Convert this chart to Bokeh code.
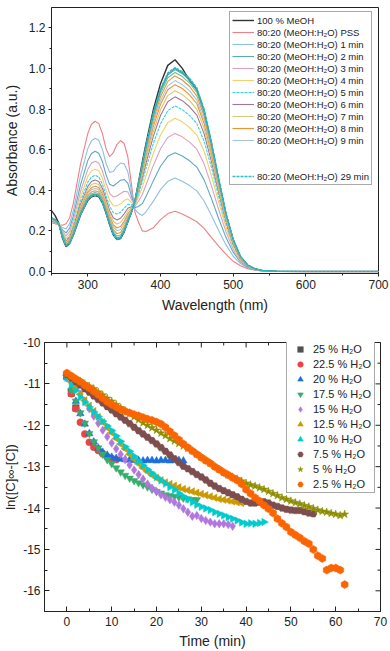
from bokeh.plotting import figure
from bokeh.models import (Legend, LegendItem, Range1d, FixedTicker,
                          PrintfTickFormatter)
from bokeh.embed import file_html
from bokeh.resources import INLINE

FONT = "Liberation Sans"
AX = "#222222"

# ---------------- top panel data: absorbance spectra ----------------
wl = [250, 255, 260, 265, 270, 275, 280,
      290, 300, 305, 310, 315, 320, 325, 330, 335, 340, 345, 350, 355, 360, 365, 370, 375, 380,
      390, 400, 410, 420, 430, 440, 450, 460, 470, 480, 490, 500, 510, 520, 530, 540,
      560, 600, 700]

a_meoh = [0.30, 0.275, 0.238, 0.165, 0.122, 0.138, 0.178,
          0.278, 0.35, 0.368, 0.374, 0.368, 0.338, 0.288, 0.23, 0.18, 0.157, 0.162, 0.194, 0.244, 0.29, 0.352, 0.445, 0.54, 0.63,
          0.795, 0.925, 1.015, 1.043, 1.0, 0.94, 0.895, 0.79, 0.63, 0.45, 0.283, 0.155, 0.072, 0.03, 0.012, 0.005,
          0.001, 0, 0]
a_pss = [0.24, 0.235, 0.23, 0.228, 0.235, 0.265, 0.335,
         0.53, 0.68, 0.725, 0.74, 0.728, 0.68, 0.605, 0.565, 0.585, 0.625, 0.645, 0.63, 0.565, 0.43, 0.29, 0.24, 0.2, 0.197,
         0.215, 0.255, 0.285, 0.297, 0.283, 0.265, 0.245, 0.212, 0.168, 0.125, 0.085, 0.05, 0.028, 0.014, 0.006, 0.002,
         0, 0, 0]
a_1 = [0.246, 0.240, 0.231, 0.215, 0.210, 0.236, 0.299,
       0.473, 0.605, 0.643, 0.656, 0.646, 0.602, 0.533, 0.488, 0.492, 0.518, 0.534, 0.530, 0.491, 0.398, 0.304, 0.286, 0.276, 0.294,
       0.345, 0.403, 0.444, 0.460, 0.444, 0.423, 0.397, 0.347, 0.277, 0.202, 0.132, 0.075, 0.039, 0.018, 0.008, 0.003,
       0.001, 0, 0]
a_2 = [0.250, 0.243, 0.232, 0.204, 0.190, 0.214, 0.272,
       0.428, 0.547, 0.581, 0.592, 0.582, 0.542, 0.477, 0.429, 0.421, 0.435, 0.449, 0.453, 0.435, 0.373, 0.314, 0.321, 0.334, 0.369,
       0.445, 0.518, 0.567, 0.585, 0.569, 0.545, 0.514, 0.451, 0.360, 0.261, 0.168, 0.095, 0.047, 0.021, 0.009, 0.003,
       0.001, 0, 0]
a_3 = [0.254, 0.246, 0.233, 0.197, 0.175, 0.197, 0.251,
       0.395, 0.503, 0.533, 0.543, 0.534, 0.496, 0.435, 0.385, 0.367, 0.372, 0.384, 0.395, 0.392, 0.354, 0.322, 0.348, 0.379, 0.426,
       0.521, 0.604, 0.660, 0.680, 0.663, 0.637, 0.602, 0.530, 0.423, 0.306, 0.196, 0.110, 0.053, 0.024, 0.010, 0.004,
       0.001, 0, 0]
a_4 = [0.256, 0.248, 0.233, 0.190, 0.164, 0.184, 0.235,
       0.368, 0.468, 0.495, 0.504, 0.496, 0.460, 0.401, 0.350, 0.324, 0.323, 0.333, 0.349, 0.358, 0.339, 0.329, 0.369, 0.414, 0.471,
       0.581, 0.672, 0.733, 0.755, 0.737, 0.709, 0.672, 0.592, 0.473, 0.342, 0.218, 0.121, 0.058, 0.026, 0.011, 0.004,
       0.001, 0, 0]
a_5 = [0.258, 0.250, 0.234, 0.186, 0.154, 0.174, 0.222,
       0.347, 0.440, 0.465, 0.474, 0.466, 0.431, 0.374, 0.321, 0.290, 0.283, 0.292, 0.312, 0.331, 0.328, 0.334, 0.386, 0.442, 0.507,
       0.629, 0.727, 0.792, 0.815, 0.797, 0.768, 0.728, 0.642, 0.514, 0.370, 0.235, 0.131, 0.062, 0.027, 0.011, 0.004,
       0.001, 0, 0]
a_6 = [0.260, 0.251, 0.234, 0.182, 0.148, 0.166, 0.212,
       0.331, 0.419, 0.443, 0.451, 0.443, 0.410, 0.355, 0.300, 0.265, 0.254, 0.262, 0.284, 0.311, 0.319, 0.338, 0.399, 0.462, 0.533,
       0.664, 0.768, 0.836, 0.860, 0.841, 0.811, 0.770, 0.679, 0.543, 0.391, 0.248, 0.137, 0.065, 0.028, 0.012, 0.004,
       0.001, 0, 0]
a_7 = [0.261, 0.252, 0.234, 0.179, 0.143, 0.160, 0.205,
       0.321, 0.405, 0.428, 0.435, 0.428, 0.395, 0.341, 0.286, 0.247, 0.234, 0.241, 0.265, 0.297, 0.313, 0.340, 0.408, 0.477, 0.551,
       0.688, 0.796, 0.866, 0.890, 0.871, 0.841, 0.798, 0.705, 0.564, 0.406, 0.257, 0.142, 0.067, 0.029, 0.012, 0.005,
       0.001, 0, 0]
a_8 = [0.262, 0.253, 0.234, 0.177, 0.138, 0.155, 0.199,
       0.310, 0.391, 0.413, 0.420, 0.413, 0.381, 0.328, 0.272, 0.230, 0.214, 0.221, 0.247, 0.283, 0.307, 0.343, 0.416, 0.490, 0.569,
       0.712, 0.823, 0.895, 0.920, 0.901, 0.870, 0.826, 0.729, 0.583, 0.420, 0.265, 0.147, 0.069, 0.030, 0.012, 0.005,
       0.001, 0, 0]
a_9 = [0.263, 0.253, 0.235, 0.175, 0.135, 0.152, 0.194,
       0.303, 0.382, 0.403, 0.409, 0.403, 0.371, 0.319, 0.263, 0.219, 0.201, 0.207, 0.235, 0.274, 0.303, 0.344, 0.422, 0.500, 0.581,
       0.728, 0.841, 0.914, 0.940, 0.920, 0.889, 0.844, 0.746, 0.597, 0.429, 0.271, 0.150, 0.071, 0.030, 0.012, 0.005,
       0.001, 0, 0]
a_11 = [0.263, 0.254, 0.235, 0.173, 0.132, 0.148, 0.189,
        0.295, 0.372, 0.391, 0.398, 0.391, 0.360, 0.309, 0.252, 0.206, 0.186, 0.192, 0.221, 0.264, 0.298, 0.346, 0.428, 0.510, 0.595,
        0.746, 0.861, 0.936, 0.963, 0.943, 0.911, 0.865, 0.765, 0.612, 0.440, 0.278, 0.153, 0.072, 0.031, 0.013, 0.005,
        0.001, 0, 0]
a_14 = [0.264, 0.254, 0.235, 0.172, 0.129, 0.144, 0.185,
        0.289, 0.363, 0.382, 0.389, 0.383, 0.352, 0.301, 0.244, 0.196, 0.174, 0.180, 0.210, 0.256, 0.295, 0.348, 0.433, 0.518, 0.605,
        0.760, 0.877, 0.954, 0.980, 0.960, 0.928, 0.882, 0.779, 0.623, 0.448, 0.283, 0.156, 0.073, 0.031, 0.013, 0.005,
        0.001, 0, 0]
a_19 = [0.265, 0.255, 0.235, 0.171, 0.127, 0.142, 0.182,
        0.284, 0.357, 0.376, 0.382, 0.376, 0.345, 0.295, 0.237, 0.188, 0.165, 0.171, 0.202, 0.250, 0.292, 0.349, 0.437, 0.525, 0.613,
        0.771, 0.890, 0.967, 0.994, 0.974, 0.941, 0.894, 0.791, 0.632, 0.455, 0.287, 0.158, 0.074, 0.032, 0.013, 0.005,
        0.001, 0, 0]
a_24 = [0.265, 0.255, 0.235, 0.170, 0.126, 0.141, 0.181,
        0.282, 0.354, 0.372, 0.379, 0.373, 0.342, 0.292, 0.234, 0.185, 0.161, 0.166, 0.198, 0.247, 0.291, 0.350, 0.439, 0.528, 0.617,
        0.776, 0.895, 0.973, 1.0, 0.980, 0.947, 0.900, 0.796, 0.637, 0.458, 0.289, 0.159, 0.075, 0.032, 0.013, 0.005,
        0.001, 0, 0]
a_29 = [0.265, 0.255, 0.235, 0.17, 0.125, 0.14, 0.18,
        0.28, 0.352, 0.37, 0.376, 0.37, 0.34, 0.29, 0.232, 0.182, 0.158, 0.163, 0.195, 0.245, 0.29, 0.35, 0.44, 0.53, 0.62,
        0.78, 0.9, 0.978, 1.005, 0.985, 0.952, 0.905, 0.80, 0.64, 0.46, 0.29, 0.16, 0.075, 0.032, 0.013, 0.005,
        0.001, 0, 0]

spec_labels = ["100 % MeOH", "80:20 (MeOH:H\u2082O) PSS"] + \
    ["80:20 (MeOH:H\u2082O) %d min" % m for m in (1, 2, 3, 4, 5, 6, 7, 8, 9)]
label_29 = "80:20 (MeOH:H\u2082O) 29 min"

wl_ticks = [300, 400, 500, 600, 700]
wl_minor = [250, 350, 450, 550, 650]
abs_ticks = [0.0, 0.2, 0.4, 0.6, 0.8, 1.0, 1.2]
abs_minor = [0.1, 0.3, 0.5, 0.7, 0.9, 1.1]

# ---------------- bottom panel data: kinetics ----------------
t_25 = [0, 1, 2]
y_25 = [-10.82, -11.22, -11.58]
t_22_5 = [0, 1, 2, 3, 4, 5, 6, 7, 8, 9, 10, 11]
y_22_5 = [-10.8, -11.24, -11.6, -11.93, -12.21, -12.41, -12.53, -12.61, -12.69, -12.76, -12.8, -12.83]
t_20 = [0, 1, 2, 3, 4, 5, 6, 7, 8, 9, 10, 11, 12, 13, 14, 15, 16, 17, 18, 19, 20, 21, 22, 23, 24, 25, 26]
y_20 = [-10.82, -11.1, -11.42, -11.72, -11.97, -12.2, -12.4, -12.55, -12.65, -12.72, -12.77, -12.8, -12.82,
        -12.83, -12.84, -12.85, -12.85, -12.86, -12.85, -12.85, -12.86, -12.85, -12.85, -12.86, -12.85, -12.85, -12.86]
t_17_5 = [0, 1, 2, 3, 4, 5, 6, 7, 8, 9, 10, 11, 12, 13, 14, 15, 16, 17, 18, 19, 20, 21, 22, 23, 24, 25, 26, 27, 28, 29]
y_17_5 = [-10.85, -11.16, -11.42, -11.7, -11.95, -12.2, -12.4, -12.55, -12.7, -12.83, -12.93, -13.03, -13.13, -13.21,
          -13.28, -13.34, -13.39, -13.44, -13.49, -13.55, -13.6, -13.64, -13.68, -13.7, -13.72, -13.74, -13.76, -13.78,
          -13.8, -13.8]
t_15 = [0, 1, 2, 3, 4, 5, 6, 7, 8, 9, 10, 11, 12, 13, 14, 15, 16, 17, 18, 19, 20, 21, 22, 23, 24, 25, 26, 27, 28, 29,
        30, 31, 32, 33, 34, 35, 36, 37]
y_15 = [-10.85, -10.98, -11.1, -11.25, -11.42, -11.6, -11.78, -11.95, -12.12, -12.28, -12.43, -12.57, -12.7, -12.83,
        -12.96, -13.08, -13.19, -13.3, -13.42, -13.52, -13.6, -13.68, -13.74, -13.8, -13.86, -13.93, -14.02, -14.1,
        -14.2, -14.18, -14.25, -14.3, -14.34, -14.38, -14.38, -14.38, -14.4, -14.44]
t_12_5 = [0, 1, 2, 3, 4, 5, 6, 7, 8, 9, 10, 11, 12, 13, 14, 15, 16, 17, 18, 19, 20, 21, 22, 23, 24, 25, 26, 27, 28,
          29, 30, 31, 32, 33, 34, 35, 36, 37, 38, 39]
y_12_5 = [-10.8, -10.95, -11.1, -11.25, -11.4, -11.53, -11.66, -11.8, -11.93, -12.06,
          -12.18, -12.32, -12.45, -12.57, -12.7, -12.82, -12.93, -13.03, -13.12, -13.2,
          -13.27, -13.33, -13.38, -13.42, -13.46, -13.5, -13.54, -13.57, -13.6, -13.63,
          -13.66, -13.69, -13.72, -13.75, -13.78, -13.8, -13.82, -13.84, -13.86, -13.88]
t_10 = [0, 1, 2, 3, 4, 5, 6, 7, 8, 9, 10, 11, 12, 13, 14, 15, 16, 17, 18, 19, 20, 21, 22, 23, 24, 25, 26, 27, 28, 29,
        30, 31, 32, 33, 34, 35, 36, 37, 38, 39, 40, 41, 42, 43, 44]
y_10 = [-10.85, -11.02, -11.16, -11.32, -11.44, -11.56, -11.68, -11.79, -11.9, -12.02,
        -12.13, -12.26, -12.39, -12.52, -12.63, -12.75, -12.87, -12.97, -13.07, -13.16,
        -13.25, -13.33, -13.41, -13.49, -13.56, -13.64, -13.72, -13.78, -13.86, -13.92,
        -13.97, -14.01, -14.05, -14.1, -14.14, -14.18, -14.22, -14.26, -14.3, -14.35,
        -14.38, -14.37, -14.38, -14.36, -14.34]
t_7_5 = [0, 1, 2, 3, 4, 5, 6, 7, 8, 9, 10, 11, 12, 13, 14, 15, 16, 17, 18, 19, 20, 21, 22, 23, 24, 25, 26, 27, 28, 29,
         30, 31, 32, 33, 34, 35, 36, 37, 38, 39, 40, 41, 42, 43, 44, 45, 46, 47, 48, 49, 50, 51, 52, 53, 54, 55]
y_7_5 = [-10.78, -10.86, -10.95, -11.03, -11.12, -11.2, -11.29, -11.38, -11.46, -11.55,
         -11.63, -11.72, -11.8, -11.88, -11.96, -12.05, -12.13, -12.21, -12.29, -12.37,
         -12.45, -12.54, -12.63, -12.72, -12.81, -12.9, -12.99, -13.05, -13.12, -13.19,
         -13.25, -13.32, -13.4, -13.47, -13.53, -13.58, -13.63, -13.68, -13.73, -13.79,
         -13.84, -13.88, -13.88, -13.86, -13.85, -13.88, -13.93, -13.96, -14.0, -14.03,
         -14.05, -14.06, -14.06, -14.09, -14.12, -14.14]
t_5 = [0, 1, 2, 3, 4, 5, 6, 7, 8, 9, 10, 11, 12, 13, 14, 15, 16, 17, 18, 19, 20, 21, 22, 23, 24, 25, 26, 27, 28, 29,
       30, 31, 32, 33, 34, 35, 36, 37, 38, 39, 40, 41, 42, 43, 44, 45, 46, 47, 48, 49, 50, 51, 52, 53, 54, 55, 56, 57,
       58, 59, 60, 61, 62]
y_5 = [-10.76, -10.82, -10.88, -10.94, -11.0, -11.06, -11.12, -11.2, -11.27, -11.35,
       -11.42, -11.5, -11.58, -11.65, -11.72, -11.8, -11.87, -11.94, -12.0, -12.06,
       -12.12, -12.19, -12.25, -12.32, -12.38, -12.44, -12.5, -12.56, -12.62, -12.7,
       -12.77, -12.85, -12.92, -13.0, -13.07, -13.14, -13.2, -13.25, -13.3, -13.35,
       -13.4, -13.44, -13.47, -13.51, -13.55, -13.6, -13.65, -13.7, -13.75, -13.79,
       -13.83, -13.87, -13.9, -13.94, -13.97, -14.01, -14.05, -14.08, -14.1, -14.13,
       -14.15, -14.18, -14.15]
t_2_5 = [0, 1, 2, 3, 4, 5, 6, 7, 8, 9, 10, 11, 12, 13, 14, 15, 16, 17, 18, 19, 20, 21, 22, 23, 24, 25, 26, 27, 28, 29,
         30, 31, 32, 33, 34, 35, 36, 37, 38, 39, 40, 41, 42, 43, 44, 45, 46, 47, 48, 49, 50, 51, 52, 53, 54, 55, 56, 57,
         58, 59, 60, 61, 62]
y_2_5 = [-10.74, -10.81, -10.88, -10.95, -11.03, -11.1, -11.18, -11.26, -11.35, -11.43,
         -11.5, -11.56, -11.62, -11.66, -11.7, -11.74, -11.77, -11.81, -11.85, -11.88,
         -11.92, -11.97, -12.05, -12.15, -12.25, -12.35, -12.45, -12.54, -12.62, -12.7,
         -12.78, -12.85, -12.92, -13.0, -13.07, -13.14, -13.2, -13.27, -13.33, -13.42,
         -13.55, -13.65, -13.75, -13.83, -13.93, -14.02, -14.12, -14.26, -14.37, -14.46,
         -14.58, -14.65, -14.72, -14.8, -14.86, -15.0, -15.15, -15.22, -15.5, -15.45,
         -15.45, -15.5, -15.85]

kin_labels = ["25 % H\u2082O", "22.5 % H\u2082O", "20 % H\u2082O", "17.5 % H\u2082O", "15 % H\u2082O",
              "12.5 % H\u2082O", "10 % H\u2082O", "7.5 % H\u2082O", "5 % H\u2082O", "2.5 % H\u2082O"]

t_ticks = [0, 10, 20, 30, 40, 50, 60, 70]
t_minor = [-5, 5, 15, 25, 35, 45, 55, 65]
ln_ticks = [-16, -15, -14, -13, -12, -11, -10]
ln_minor = [-16.5, -15.5, -14.5, -13.5, -12.5, -11.5, -10.5]
T_MIN, T_MAX = -5, 70
LN_MIN, LN_MAX = -16.5, -10


def style_axis(ax, tick_in, tick_out):
    ax.axis_line_color = AX
    ax.major_tick_line_color = AX
    ax.minor_tick_line_color = AX
    ax.major_tick_in = tick_in
    ax.major_tick_out = tick_out
    ax.minor_tick_in = max(tick_in - 2, 0)
    ax.minor_tick_out = max(tick_out - 1, 0)
    ax.major_label_text_font = FONT
    ax.major_label_text_font_size = "12px"
    ax.major_label_text_color = AX
    ax.axis_label_text_font = FONT
    ax.axis_label_text_font_size = "14px"
    ax.axis_label_text_font_style = "normal"
    ax.axis_label_text_color = AX


# ======================= TOP FIGURE =======================
p1 = figure(width=390, height=318, x_range=Range1d(250, 700), y_range=Range1d(-0.01, 1.3),
            output_backend="svg", toolbar_location=None,
            min_border_left=51, min_border_right=12, min_border_top=7, min_border_bottom=45)
p1.xgrid.visible = False
p1.ygrid.visible = False
p1.outline_line_color = AX
p1.outline_line_alpha = 1
p1.xaxis.axis_label = "Wavelength (nm)"
p1.yaxis.axis_label = "Absorbance (a.u.)"
p1.xaxis.ticker = FixedTicker(ticks=wl_ticks, minor_ticks=wl_minor)
p1.yaxis.ticker = FixedTicker(ticks=abs_ticks, minor_ticks=abs_minor)
p1.yaxis.formatter = PrintfTickFormatter(format="%.1f")
style_axis(p1.xaxis[0], 0, 3)
style_axis(p1.yaxis[0], 0, 3)
p1.xaxis.major_label_standoff = 3
p1.yaxis.major_label_standoff = 3
p1.xaxis.axis_label_standoff = 5
p1.yaxis.axis_label_standoff = 6

spec_series = [a_meoh, a_pss, a_1, a_2, a_3, a_4, a_5, a_6, a_7, a_8, a_9]
spec_colors = ["#333333", "#ef7f86", "#8fc0e0", "#5ba9bf", "#dba2c0", "#f1d26a",
               "#2fd3e3", "#a27593", "#d4c978", "#f0922e", "#a9c3dc"]
extra_series = [a_11, a_14, a_19, a_24]
extra_colors = ["#e8963c", "#6cbf9c", "#4aa6aa", "#2e9e96"]

renders = []
for ys, c in zip(spec_series, spec_colors):
    dash = "3 1" if c == "#2fd3e3" else "solid"
    w = 1.4 if c == "#333333" else 1.1
    renders.append(p1.line(wl, ys, line_color=c, line_width=w, line_dash=dash))
for ys, c in zip(extra_series, extra_colors):
    p1.line(wl, ys, line_color=c, line_width=1.1)
r29 = p1.line(wl, a_29, line_color="#2fbfc8", line_width=1.3, line_dash="3 1")
blank = p1.line([250], [0], line_alpha=0)

items = [LegendItem(label=l, renderers=[r]) for l, r in zip(spec_labels, renders)]
items += [LegendItem(label=" ", renderers=[blank]), LegendItem(label="  ", renderers=[blank]),
          LegendItem(label=label_29, renderers=[r29])]
leg1 = Legend(items=items, location=(178, 88), orientation="vertical")
leg1.label_text_font = FONT
leg1.label_text_font_size = "9.5px"
leg1.label_text_color = AX
leg1.label_height = 12
leg1.glyph_height = 12
leg1.glyph_width = 22
leg1.label_standoff = 3
leg1.spacing = 0
leg1.padding = 2
leg1.margin = 0
leg1.border_line_color = "#555555"
leg1.border_line_width = 1
leg1.background_fill_color = "white"
leg1.background_fill_alpha = 1
p1.add_layout(leg1)

# ======================= BOTTOM FIGURE =======================
p2 = figure(width=390, height=333, x_range=Range1d(T_MIN, T_MAX), y_range=Range1d(LN_MIN, LN_MAX),
            output_backend="svg", toolbar_location=None,
            min_border_left=43, min_border_right=10, min_border_top=24, min_border_bottom=39)
p2.xgrid.visible = False
p2.ygrid.visible = False
p2.outline_line_color = AX
p2.outline_line_alpha = 1
p2.xaxis.axis_label = "Time (min)"
p2.yaxis.axis_label = "ln([C]\u221e-[C])"
p2.xaxis.ticker = FixedTicker(ticks=t_ticks, minor_ticks=t_minor)
p2.yaxis.ticker = FixedTicker(ticks=ln_ticks, minor_ticks=ln_minor)
p2.yaxis.formatter = PrintfTickFormatter(format="%d")
style_axis(p2.xaxis[0], 5, 0)
style_axis(p2.yaxis[0], 5, 0)
p2.yaxis.axis_label_text_font_size = "13px"
p2.xaxis.major_label_standoff = 5
p2.yaxis.major_label_standoff = 4
p2.xaxis.axis_label_standoff = 4
p2.yaxis.axis_label_standoff = 2

# mirrored inward ticks on the right and top edges (clipped to the frame)
p2.scatter([T_MAX] * len(ln_ticks), ln_ticks, marker="dash", size=10, line_color=AX, line_width=1)
p2.scatter([T_MAX] * len(ln_minor), ln_minor, marker="dash", size=6, line_color=AX, line_width=1)
p2.scatter(t_ticks, [LN_MAX] * len(t_ticks), marker="dash", angle=1.5708, size=10, line_color=AX, line_width=1)
p2.scatter(t_minor, [LN_MAX] * len(t_minor), marker="dash", angle=1.5708, size=6, line_color=AX, line_width=1)

kin = [(t_25, y_25, "square", "#515151", 6.5, 0.0),
       (t_22_5, y_22_5, "circle", "#f14040", 7, 0.0),
       (t_20, y_20, "triangle", "#1a6fdf", 7.5, 0.0),
       (t_17_5, y_17_5, "inverted_triangle", "#37ad6b", 7.5, 0.0),
       (t_15, y_15, "diamond", "#b177de", 8.5, 0.0),
       (t_12_5, y_12_5, "triangle", "#cc9900", 7.5, 1.5708),
       (t_10, y_10, "triangle", "#00cbcc", 7.5, -1.5708),
       (t_7_5, y_7_5, "hex", "#7d4e4e", 7.5, 0.0),
       (t_5, y_5, "star", "#8e8e00", 8.5, 0.0),
       (t_2_5, y_2_5, "hex", "#fb6501", 8, 0.5236)]
kin_r = []
for (tx, ty, mk, c, s, ang) in kin:
    kin_r.append(p2.scatter(tx, ty, marker=mk, size=s, angle=ang,
                            fill_color=c, line_color=c, line_width=0.5))

leg2 = Legend(items=[LegendItem(label=l, renderers=[r]) for l, r in zip(kin_labels, kin_r)],
              location=(242, 118), orientation="vertical")
leg2.label_text_font = FONT
leg2.label_text_font_size = "11px"
leg2.label_text_color = AX
leg2.label_height = 14
leg2.label_width = 60
leg2.glyph_height = 14
leg2.glyph_width = 24
leg2.label_standoff = 1
leg2.spacing = 1
leg2.padding = 1
leg2.margin = 0
leg2.border_line_color = "#555555"
leg2.border_line_width = 1
leg2.background_fill_color = "white"
leg2.background_fill_alpha = 1
p2.add_layout(leg2)

open("out.html", "w").write(file_html([p1, p2], INLINE))
